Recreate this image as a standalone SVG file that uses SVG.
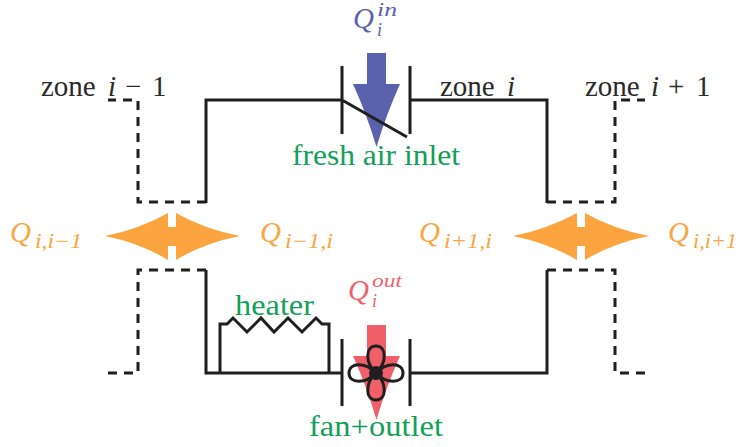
<svg xmlns="http://www.w3.org/2000/svg" width="738" height="447" viewBox="0 0 738 447">
<style>
.w{fill:none;stroke:#1f1f1f;stroke-width:3}
.d{fill:none;stroke:#1f1f1f;stroke-width:3;stroke-dasharray:9 7}
text{font-family:"Liberation Serif","Times New Roman",serif;font-size:29px}
.k{fill:#2b2b2b}.g{fill:#12a05a}.o{fill:#fba440}.b{fill:#5b62ad}.r{fill:#f1606a}
.i{font-style:italic}
.s{font-size:21px}
.t{font-size:18px}
</style>
<g id="connectors">
<path class="w" d="M342 100H206V203"/>
<path class="w" d="M410 100H547V203"/>
<path class="w" d="M206 270V373H342"/>
<path class="w" d="M410 373H547V270"/>
<path class="d" d="M206 202H138V100H108"/>
<path class="d" d="M547 202H615V100H645"/>
<path class="d" d="M206 270H138V373H108"/>
<path class="d" d="M547 270H615V373H645"/>
</g>
<g id="zone-labels">
<text class="k" x="41" y="96">zone <tspan class="i" x="108">i</tspan><tspan x="125">−</tspan><tspan x="152">1</tspan></text>
<text class="k" x="440" y="96">zone <tspan class="i" x="507">i</tspan></text>
<text class="k" x="585" y="96">zone <tspan class="i" x="651">i</tspan><tspan x="668">+</tspan><tspan x="696">1</tspan></text>
</g>
<g id="inlet">
<path class="b" d="M367 53H386V84H400Q386 115 376.500 147Q367 115 353 84H367Z"/>
<path class="w" d="M342 66V134M410 66V134M342 100L407 137"/>
<text class="b i" x="353" y="28">Q<tspan class="t" x="377" y="16" textLength="20" lengthAdjust="spacingAndGlyphs">in</tspan><tspan class="t" x="377" y="36">i</tspan></text>
<text class="g" x="292" y="165" textLength="168" lengthAdjust="spacingAndGlyphs">fresh air inlet</text>
</g>
<g id="outlet">
<path class="r" d="M367 325H386V356H400Q386 387 376.500 420Q367 387 353 356H367Z"/>
<path class="w" d="M342 339V406M410 339V406"/>
<g class="w" transform="translate(376 373)">
<path d="M0 0C-11 -10 -11 -27 0 -27C11 -27 11 -10 0 0"/>
<path d="M0 0C-11 10 -11 27 0 27C11 27 11 10 0 0"/>
<path d="M0 0C-10 -11 -27 -11 -27 0C-27 11 -10 11 0 0"/>
<path d="M0 0C10 -11 27 -11 27 0C27 11 10 11 0 0"/>
<circle r="5.500" fill="#1f1f1f"/>
</g>
<text class="r i" x="348" y="300">Q<tspan class="t" x="372" y="287" textLength="30" lengthAdjust="spacingAndGlyphs">out</tspan><tspan class="t" x="372" y="307">i</tspan></text>
<text class="g" x="309" y="436" textLength="134" lengthAdjust="spacingAndGlyphs">fan+outlet</text>
</g>
<g id="heater">
<path class="w" d="M220 373V324H227L233 318L247 332L261 318L274 332L288 318L302 332L316 318L322 324H329V373"/>
<text class="g" x="235" y="315" textLength="79" lengthAdjust="spacingAndGlyphs">heater</text>
</g>
<g id="exchange-left">
<path class="o" d="M105 236Q140 229 168 213V227H176V213Q204 229 240 236Q204 243 176 260V246H168V260Q140 243 105 236Z"/>
<text class="o i" x="10" y="242">Q<tspan class="s" x="35" y="248" textLength="47" lengthAdjust="spacingAndGlyphs">i,i−1</tspan></text>
<text class="o i" x="260" y="242">Q<tspan class="s" x="285" y="248" textLength="48" lengthAdjust="spacingAndGlyphs">i−1,i</tspan></text>
</g>
<g id="exchange-right">
<path class="o" d="M513 236Q548 229 577 213V227H585V213Q613 229 649 236Q613 243 585 260V246H577V260Q548 243 513 236Z"/>
<text class="o i" x="419" y="242">Q<tspan class="s" x="444" y="248" textLength="48" lengthAdjust="spacingAndGlyphs">i+1,i</tspan></text>
<text class="o i" x="668" y="242">Q<tspan class="s" x="693" y="248" textLength="44" lengthAdjust="spacingAndGlyphs">i,i+1</tspan></text>
</g>
</svg>
